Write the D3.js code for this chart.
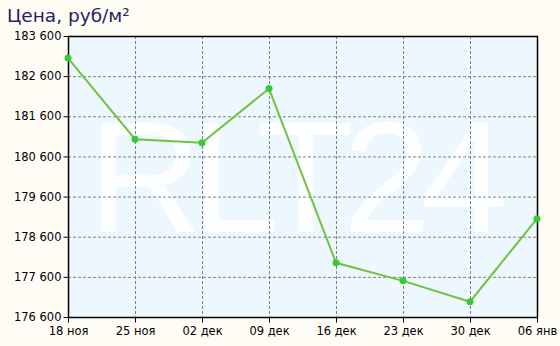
<!DOCTYPE html>
<html>
<head>
<meta charset="utf-8">
<script src="https://cdn.jsdelivr.net/npm/d3@7"></script>
<style>
  body { margin: 0; background: #fffcf5; }
  svg { display: block; font-family: "DejaVu Sans", Verdana, sans-serif; }
</style>
</head>
<body>
<div id="chart"></div>
<script>
var dates = ['18 ноя', '25 ноя', '02 дек', '09 дек', '16 дек', '23 дек', '30 дек', '06 янв']
var prices = [183050, 181030, 180940, 182290, 177950, 177500, 176980, 179050]
var yTicks = [176600, 177600, 178600, 179600, 180600, 181600, 182600, 183600]

var conf = {
  width: 560,
  height: 346,
  left: 68,
  right: 537,
  top: 36,
  bottom: 317
}

var svg = d3.select('#chart')
    .append('svg')
    .attr('width', conf.width).attr('height', conf.height)

var x = d3.scalePoint().domain(dates).range([conf.left, conf.right])
var y = d3.scaleLinear().domain([176600, 183600]).range([conf.bottom, conf.top])

// plot background
svg.append('rect')
  .attr('x', conf.left).attr('y', conf.top)
  .attr('width', conf.right - conf.left).attr('height', conf.bottom - conf.top)
  .attr('fill', '#edf7fe')

// watermark
svg.append('text')
  .attr('x', 88).attr('y', 232)
  .attr('font-size', 158)
  .attr('font-family', '"Liberation Sans", Arial, sans-serif')
  .attr('fill', '#fdfeff')
  .attr('textLength', 420)
  .attr('lengthAdjust', 'spacing')
  .text('RLT24')

// grid
svg.selectAll('.hgrid')
  .data(yTicks.slice(1, -1))
  .enter()
  .append('line')
  .attr('x1', conf.left).attr('x2', conf.right)
  .attr('y1', d => y(d) + 0.5).attr('y2', d => y(d) + 0.5)
  .attr('stroke', '#808080').attr('stroke-dasharray', '3,2')

svg.selectAll('.vgrid')
  .data(dates.slice(1, -1))
  .enter()
  .append('line')
  .attr('y1', conf.top).attr('y2', conf.bottom)
  .attr('x1', d => Math.round(x(d)) + 0.5).attr('x2', d => Math.round(x(d)) + 0.5)
  .attr('stroke', '#808080').attr('stroke-dasharray', '3,2')

// frame
svg.append('rect')
  .attr('x', conf.left + 0.5).attr('y', conf.top + 0.5)
  .attr('width', conf.right - conf.left).attr('height', conf.bottom - conf.top)
  .attr('fill', 'none').attr('stroke', '#000').attr('stroke-width', 1.5)

// axes
var fmt = d => d3.format(',')(d).replace(',', ' ')
var yAxis = svg.append('g')
  .attr('transform', 'translate(' + (conf.left + 0.5) + ',0)')
  .call(d3.axisLeft(y).tickValues(yTicks).tickFormat(fmt).tickSize(5).tickPadding(2))
yAxis.select('.domain').remove()
yAxis.selectAll('text').attr('font-size', 11.5).attr('fill', '#000').attr('font-family', '"DejaVu Sans", Verdana, sans-serif')
yAxis.selectAll('line').attr('stroke', '#000')

var xAxis = svg.append('g')
  .attr('transform', 'translate(0,' + (conf.bottom + 0.5) + ')')
  .call(d3.axisBottom(x).tickSize(5).tickPadding(4))
xAxis.select('.domain').remove()
xAxis.selectAll('text').attr('font-size', 11.5).attr('fill', '#000').attr('font-family', '"DejaVu Sans", Verdana, sans-serif')
xAxis.selectAll('line').attr('stroke', '#000')

// line
var line = d3.line()
  .x((d, i) => x(dates[i]))
  .y(d => y(d))

svg.append('path')
  .datum(prices)
  .attr('d', line)
  .attr('fill', 'none')
  .attr('stroke', '#72c240')
  .attr('stroke-width', 2)

svg.selectAll('.pt')
  .data(prices)
  .enter()
  .append('circle')
  .attr('cx', (d, i) => x(dates[i]))
  .attr('cy', d => y(d))
  .attr('r', 3.5)
  .attr('fill', '#33cc33')

// title
svg.append('text')
  .attr('x', 7).attr('y', 22)
  .attr('font-size', 18.5)
  .attr('fill', '#24245e')
  .text('Цена, руб/м²')
</script>
</body>
</html>
